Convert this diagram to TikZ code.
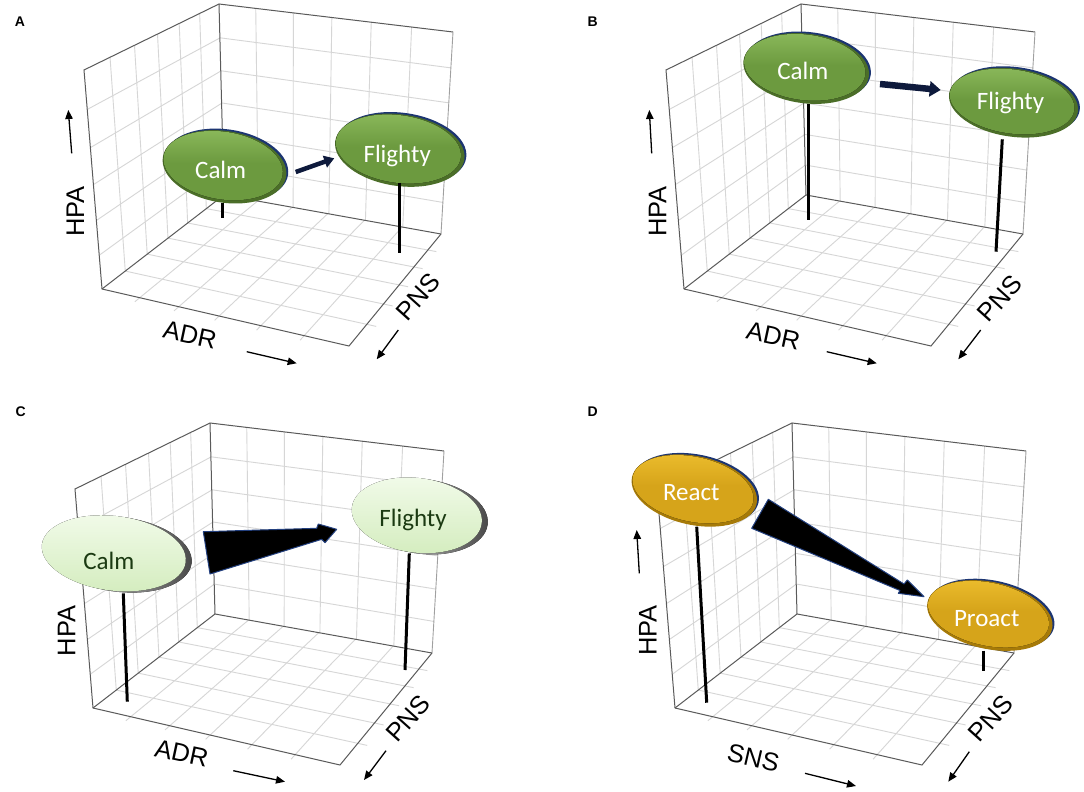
\documentclass[tikz,border=0pt]{standalone}
\usepackage{fontspec}
\setmainfont{Liberation Sans}
\newfontfamily\calibf{Carlito}
\usetikzlibrary{arrows.meta}
\definecolor{gridc}{HTML}{D6D6D6}
\definecolor{edgec}{HTML}{5A5A5A}
\definecolor{edgelt}{HTML}{A0A0A0}
\definecolor{rimc}{HTML}{1C3572}
\definecolor{glight}{HTML}{8CBA5C}
\definecolor{gmid}{HTML}{6C9A3F}
\definecolor{gdark}{HTML}{4B6E28}
\definecolor{ylight}{HTML}{EDBE2E}
\definecolor{ymid}{HTML}{D6A41A}
\definecolor{ydark}{HTML}{A67A08}
\definecolor{llight}{HTML}{F2FBEA}
\definecolor{lmid}{HTML}{D5EDC0}
\definecolor{ltext}{HTML}{1B3A12}
\definecolor{navyc}{HTML}{0E1A3C}
\definecolor{wedgeedge}{HTML}{23407F}

% ---------- homography helpers (unit square -> quadrilateral) ----------
\newcommand\SetFace[8]{%
  \xdef\hgSX{\fpeval{(#1)-(#3)+(#5)-(#7)}}%
  \xdef\hgSY{\fpeval{(#2)-(#4)+(#6)-(#8)}}%
  \xdef\hgDXa{\fpeval{(#3)-(#5)}}%
  \xdef\hgDXb{\fpeval{(#7)-(#5)}}%
  \xdef\hgDYa{\fpeval{(#4)-(#6)}}%
  \xdef\hgDYb{\fpeval{(#8)-(#6)}}%
  \xdef\hgDen{\fpeval{(\hgDXa)*(\hgDYb)-(\hgDXb)*(\hgDYa)}}%
  \xdef\hgG{\fpeval{((\hgSX)*(\hgDYb)-(\hgDXb)*(\hgSY))/(\hgDen)}}%
  \xdef\hgH{\fpeval{((\hgDXa)*(\hgSY)-(\hgSX)*(\hgDYa))/(\hgDen)}}%
  \xdef\hgA{\fpeval{(#3)-(#1)+(\hgG)*(#3)}}%
  \xdef\hgB{\fpeval{(#7)-(#1)+(\hgH)*(#7)}}%
  \xdef\hgC{\fpeval{#1}}%
  \xdef\hgD{\fpeval{(#4)-(#2)+(\hgG)*(#4)}}%
  \xdef\hgE{\fpeval{(#8)-(#2)+(\hgH)*(#8)}}%
  \xdef\hgF{\fpeval{#2}}%
}
\newcommand\HP[2]{%
  \xdef\hgW{\fpeval{(\hgG)*(#1)+(\hgH)*(#2)+1}}%
  \xdef\HX{\fpeval{round(((\hgA)*(#1)+(\hgB)*(#2)+(\hgC))/(\hgW),2)}}%
  \xdef\HY{\fpeval{round(((\hgD)*(#1)+(\hgE)*(#2)+(\hgF))/(\hgW),2)}}%
}
\newcommand\FaceGrid[8]{%
  \SetFace{#1}{#2}{#3}{#4}{#5}{#6}{#7}{#8}%
  \foreach \k in {1,...,5}{%
    \HP{\k/6}{\gvlo}\edef\gxa{\HX}\edef\gya{\HY}%
    \HP{\k/6}{\gvhi}%
    \draw[gridline] (\gxa,\gya) -- (\HX,\HY);
    \HP{\gulo}{\k/6}\edef\gxa{\HX}\edef\gya{\HY}%
    \HP{\guhi}{\k/6}%
    \draw[gridline] (\gxa,\gya) -- (\HX,\HY);
  }%
}
\newcommand\DrawBox[2]{%
  \edef\bTx{#1}\edef\bTy{#2}%
  \edef\bLTx{\fpeval{#1-135}}\edef\bLTy{\fpeval{#2+66}}%
  \edef\bLx{\fpeval{#1-117}}\edef\bLy{\fpeval{#2+285}}%
  \edef\bRTx{\fpeval{#1+234}}\edef\bRTy{\fpeval{#2+28}}%
  \edef\bRx{\fpeval{#1+222}}\edef\bRy{\fpeval{#2+230}}%
  \edef\bFx{\fpeval{#1+130}}\edef\bFy{\fpeval{#2+342}}%
  \edef\bOx{\fpeval{#1+5}}\edef\bOy{\fpeval{#2+191}}%
  \def\gulo{0}\def\guhi{1}\def\gvlo{0}\def\gvhi{1}%
  \FaceGrid{\bLx}{\bLy}{\bOx}{\bOy}{\bTx}{\bTy}{\bLTx}{\bLTy}%
  \FaceGrid{\bOx}{\bOy}{\bRx}{\bRy}{\bRTx}{\bRTy}{\bTx}{\bTy}%
  \def\gvlo{-0.035}\def\guhi{1.035}%
  \FaceGrid{\bLx}{\bLy}{\bFx}{\bFy}{\bRx}{\bRy}{\bOx}{\bOy}%
  \draw[edgelight] (\bRTx,\bRTy) -- (\bRx,\bRy);
  \draw[edgeline] (\bLx,\bLy) -- (\bLTx,\bLTy) -- (\bTx,\bTy) -- (\bRTx,\bRTy);
  \draw[edgeline] (\bTx,\bTy) -- (\bOx,\bOy);
  \draw[edgeline] (\bLx,\bLy) -- (\bOx,\bOy) -- (\bRx,\bRy);
  \draw[edgeline] (\bLx,\bLy) -- (\bFx,\bFy) -- (\bRx,\bRy);
}
% ---------- bubbles ----------
\newcommand\BubG[5]{%
  \begin{scope}[shift={(#1,#2)},rotate=#5]
    \fill[rimc] (1.6,-1.8) ellipse [x radius=#3pt, y radius=#4pt];
    \fill[gdark] (0,0) ellipse [x radius=#3pt, y radius=#4pt];
    \fill[top color=glight, bottom color=gmid, middle color=gmid] (-1.6,-1.0) ellipse [x radius=\fpeval{#3-2.2}pt, y radius=\fpeval{#4-2.0}pt];
  \end{scope}}
\newcommand\BubY[5]{%
  \begin{scope}[shift={(#1,#2)},rotate=#5]
    \fill[rimc] (1.6,-1.8) ellipse [x radius=#3pt, y radius=#4pt];
    \fill[ydark] (0,0) ellipse [x radius=#3pt, y radius=#4pt];
    \fill[top color=ylight, bottom color=ymid, middle color=ymid] (-1.6,-1.0) ellipse [x radius=\fpeval{#3-2.2}pt, y radius=\fpeval{#4-2.0}pt];
  \end{scope}}
\newcommand\BubL[5]{%
  \begin{scope}[shift={(#1,#2)},rotate=#5]
    \fill[left color=black!8, right color=black!72] (6,0.5) ellipse [x radius=#3pt, y radius=#4pt];
    \fill[top color=llight, bottom color=lmid] (0,0) ellipse [x radius=#3pt, y radius=#4pt];
  \end{scope}}

\tikzset{
  gridline/.style={draw=gridc, line width=0.9pt},
  edgeline/.style={draw=edgec, line width=1pt},
  edgelight/.style={draw=edgelt, line width=0.9pt},
  stem/.style={draw=black, line width=3pt},
  axlabel/.style={inner sep=0pt, font=\fontsize{25.5}{30}\selectfont},
  axarrow/.style={draw=black, line width=1.3pt, -{Triangle[length=9pt,width=7.5pt]}},
  panellabel/.style={inner sep=0pt, font=\bfseries\fontsize{14}{16}\selectfont},
  bubtxt/.style={inner sep=0pt, anchor=base, text=white, font=\calibf\fontsize{25}{30}\selectfont},
  bubtxtdark/.style={bubtxt, text=ltext},
  navyarrow/.style={draw=navyc},
  wedge/.style={fill=black, draw=wedgeedge, line width=1pt, line join=round}
}

\begin{document}
\begin{tikzpicture}[x=1pt,y=-1pt]
\useasboundingbox (0,0) rectangle (1084,792);
\fill[white] (0,0) rectangle (1084,792);

% ================= boxes =================
\DrawBox{219}{4}
\DrawBox{801}{4}
\DrawBox{210}{423}
\DrawBox{792}{423}

% ================= panel A =================
\node[panellabel] (labA) at (20,21.7) {A};
\BubG{224.5}{166.8}{62.4}{35.8}{-9}
\BubG{399.8}{150.2}{65.2}{35.8}{-8}
\node[bubtxt] (calmA) at (220.7,178.7) {Calm};
\node[bubtxt] (flightyA) at (397.2,162.5) {Flighty};
\coordinate (sA1t) at (222.7,203.3); \coordinate (sA1b) at (222.7,218.3);
\coordinate (sA2t) at (399,182.7);   \coordinate (sA2b) at (399,253.3);
\draw[stem] (sA1t) -- (sA1b);
\draw[stem] (sA2t) -- (sA2b);
\coordinate (arA1) at (295.7,172); \coordinate (arA2) at (334.3,158.3);
\draw[navyarrow, line width=4.5pt, -{Triangle[length=10pt,width=12pt]}] (arA1) -- (arA2);
\node[axlabel, rotate=90] (hpaA) at (75.3,211.7) {HPA};
\coordinate (hA1) at (71.7,153.3); \coordinate (hA2) at (68.3,110);
\draw[axarrow] (hA1) -- (hA2);
\node[axlabel, rotate=-12] (adrA) at (190,335) {ADR};
\coordinate (dA1) at (246.7,351.7); \coordinate (dA2) at (296.7,363.3);
\draw[axarrow] (dA1) -- (dA2);
\node[axlabel, rotate=48] (pnsA) at (418.3,296.7) {PNS};
\coordinate (pA1) at (398.3,330); \coordinate (pA2) at (376.7,359.3);
\draw[axarrow] (pA1) -- (pA2);

% ================= panel B =================
\node[panellabel] (labB) at (592.7,21.7) {B};
\BubG{806.2}{68.5}{63.2}{34.8}{-7}
\BubG{1013.5}{102.7}{65}{34}{-8}
\node[bubtxt] (calmB) at (802.8,79.3) {Calm};
\node[bubtxt] (flightyB) at (1010.5,110) {Flighty};
\coordinate (sB1t) at (808.3,104); \coordinate (sB1b) at (808.3,220);
\coordinate (sB2t) at (1002.3,139.3); \coordinate (sB2b) at (996,251.7);
\draw[stem] (sB1t) -- (sB1b);
\draw[stem] (sB2t) -- (sB2b);
\coordinate (arB1) at (880,84); \coordinate (arB2) at (940.7,90);
\draw[navyarrow, line width=6.5pt, -{Triangle[length=11pt,width=15pt]}] (arB1) -- (arB2);
\node[axlabel, rotate=90] (hpaB) at (657.5,211.7) {HPA};
\coordinate (hB1) at (651.7,153.3); \coordinate (hB2) at (649.3,110);
\draw[axarrow] (hB1) -- (hB2);
\node[axlabel, rotate=-12] (adrB) at (773.3,336) {ADR};
\coordinate (dB1) at (826.7,351.7); \coordinate (dB2) at (876.7,363.3);
\draw[axarrow] (dB1) -- (dB2);
\node[axlabel, rotate=48] (pnsB) at (1000,298.3) {PNS};
\coordinate (pB1) at (980.7,330); \coordinate (pB2) at (958.3,359.3);
\draw[axarrow] (pB1) -- (pB2);

% ================= panel C =================
\node[panellabel] (labC) at (20.7,411.7) {C};
\BubL{113.8}{553.3}{72.4}{37.3}{-7}
\BubL{416.8}{515.3}{65.4}{37.3}{-7}
\node[bubtxtdark] (calmC) at (108.8,569.3) {Calm};
\node[bubtxtdark] (flightyC) at (413,526.3) {Flighty};
\coordinate (sC1t) at (123.3,593.3); \coordinate (sC1b) at (127.3,701.7);
\coordinate (sC2t) at (409.3,553.3); \coordinate (sC2b) at (405,670);
\draw[stem] (sC1t) -- (sC1b);
\draw[stem] (sC2t) -- (sC2b);
\fill[wedge] (203.3,531.7) -- (316.7,528.3) -- (318.3,524) -- (336.7,529.3) -- (325,542.7) -- (321.7,539.3) -- (210,574) -- cycle;
\node[axlabel, rotate=90] (hpaC) at (66.7,630.8) {HPA};
\node[axlabel, rotate=-12] (adrC) at (181.7,753.3) {ADR};
\coordinate (dC1) at (233.3,770.7); \coordinate (dC2) at (285,781.7);
\draw[axarrow] (dC1) -- (dC2);
\node[axlabel, rotate=48] (pnsC) at (408.3,718.3) {PNS};
\coordinate (pC1) at (386,750.7); \coordinate (pC2) at (364,780);
\draw[axarrow] (pC1) -- (pC2);

% ================= panel D =================
\node[panellabel] (labD) at (592.7,411.7) {D};
\BubY{694.3}{490.5}{63.7}{34.4}{-12}
\BubY{989.8}{615.5}{63.7}{33.5}{-12}
\node[bubtxt] (reactD) at (691.3,500.7) {React};
\node[bubtxt] (proactD) at (986.7,626.7) {Proact};
\coordinate (sD1t) at (696.7,526.7); \coordinate (sD1b) at (706.7,702.7);
\coordinate (sD2t) at (983.3,650.7); \coordinate (sD2b) at (983.3,670.7);
\draw[stem] (sD1t) -- (sD1b);
\draw[stem] (sD2t) -- (sD2b);
\fill[wedge] (768.3,499.3) -- (904,584) -- (907.3,580) -- (924,596.7) -- (898.3,593.3) -- (900,590.5) -- (751.7,528.3) -- cycle;
\node[axlabel, rotate=90] (hpaD) at (647.8,630.3) {HPA};
\coordinate (hD1) at (639.3,573.3); \coordinate (hD2) at (636.7,530);
\draw[axarrow] (hD1) -- (hD2);
\node[axlabel, rotate=-13] (snsD) at (753.3,758.3) {SNS};
\coordinate (dD1) at (805,773.3); \coordinate (dD2) at (856,786);
\draw[axarrow] (dD1) -- (dD2);
\node[axlabel, rotate=48] (pnsD) at (990.7,718.3) {PNS};
\coordinate (pD1) at (969.3,751.7); \coordinate (pD2) at (948.3,781.7);
\draw[axarrow] (pD1) -- (pD2);
\end{tikzpicture}
\end{document}
